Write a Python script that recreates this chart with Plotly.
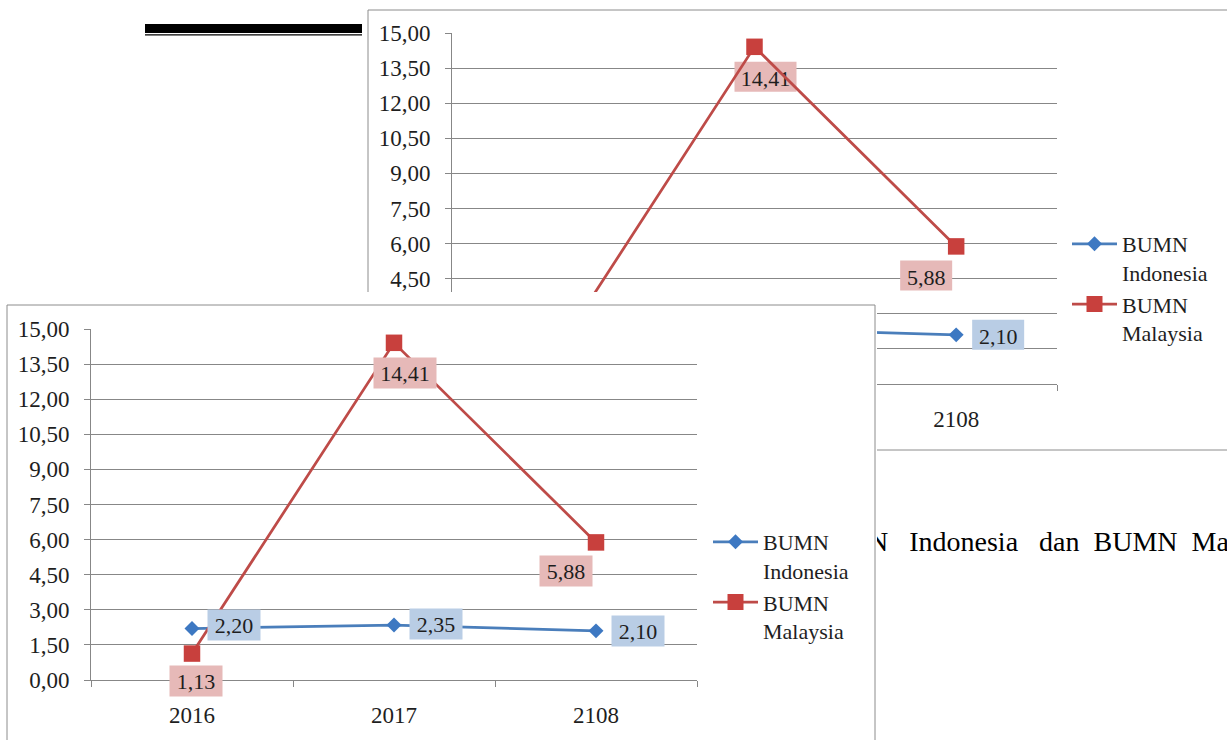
import plotly.graph_objects as go

# ---------------- data ----------------
years = ["2016", "2017", "2108"]
bumn_indonesia = [2.20, 2.35, 2.10]
bumn_malaysia = [1.13, 14.41, 5.88]
series_labels = ["BUMN<br>Indonesia", "BUMN<br>Malaysia"]
y_tickvals = [0.0, 1.5, 3.0, 4.5, 6.0, 7.5, 9.0, 10.5, 12.0, 13.5, 15.0]
caption = "N\u00a0\u00a0\u00a0Indonesia\u00a0\u00a0\u00a0dan\u00a0\u00a0BUMN\u00a0\u00a0Malaysia"

# ---------------- styling ----------------
W, H = 1227, 740
FONT = "Liberation Serif, Times New Roman, serif"
TXT = "#1e1e1e"
GRID = "#878787"
FRAME = "#8c8c8c"
BLUE_LINE, BLUE_MARK, BLUE_BOX = "#4a7ebb", "#3d78c2", "#b9cde5"
RED_LINE, RED_MARK, RED_BOX = "#be4b48", "#c8403d", "#e6b9b8"
TICK_SIZE = 23
LABEL_SIZE = 22

# data-label offsets from their point, in pixels (right, up)
indo_label_off = [(42, 4), (42, 1), (42, 0)]
malay_label_off = [(4, -27), (11, -30), (-30, -29)]
LABEL_H = 30

# panel geometry in pixels: (left, right, top, bottom)
back_plot = (452, 1057, 33, 384)
back_frame = (368, 1250, 10, 450)
front_plot = (91, 697, 329, 680)
front_sheet = (5, 877, 292, 740)     # white sheet of the front chart
front_frame = (7, 875, 305, 760)     # its border


def px_x(p):
    return p / W


def px_y(p):
    return 1 - p / H


def fmt(v):
    return f"{v:.2f}".replace(".", ",")


def label_width(text):
    return 10 * len(text) + 12


def value_axis(plot, anchor):
    l, r, t, b = plot
    return dict(
        domain=[px_y(b), px_y(t)], anchor=anchor, range=[0, 15],
        tickmode="array", tickvals=y_tickvals, tickformat=".2f",
        showgrid=True, gridcolor=GRID, gridwidth=1,
        showline=True, linecolor=GRID, linewidth=1,
        ticks="outside", ticklen=6, tickcolor=GRID, tickwidth=1,
        ticklabelstandoff=10, zeroline=False, automargin=False,
        tickfont=dict(family=FONT, size=TICK_SIZE, color=TXT), fixedrange=True,
    )


def category_axis(plot, anchor):
    l, r, t, b = plot
    return dict(
        domain=[px_x(l), px_x(r)], anchor=anchor, type="category",
        categoryorder="array", categoryarray=years, range=[-0.5, 2.5],
        tickson="boundaries", ticks="outside", ticklen=6, tickcolor=GRID,
        showgrid=False, showline=True, linecolor=GRID, linewidth=1,
        zeroline=False, ticklabelstandoff=14, automargin=False,
        tickfont=dict(family=FONT, size=TICK_SIZE, color=TXT), fixedrange=True,
    )


def series_traces(xa, ya, legend):
    return [
        go.Scatter(
            x=years, y=bumn_indonesia, name=series_labels[0], mode="lines+markers",
            line=dict(color=BLUE_LINE, width=2.75),
            marker=dict(symbol="diamond", size=11.5, color=BLUE_MARK),
            xaxis=xa, yaxis=ya, legend=legend, hoverinfo="skip",
        ),
        go.Scatter(
            x=years, y=bumn_malaysia, name=series_labels[1], mode="lines+markers",
            line=dict(color=RED_LINE, width=2.75),
            marker=dict(symbol="square", size=16.5, color=RED_MARK),
            xaxis=xa, yaxis=ya, legend=legend, hoverinfo="skip",
        ),
    ]


fig = go.Figure()

# base canvas (pixel coordinates) holding the running text of the page
fig.add_trace(go.Scatter(
    x=[868], y=[544], text=[caption], mode="text", textposition="middle right",
    textfont=dict(family=FONT, size=28, color="black"),
    xaxis="x", yaxis="y", showlegend=False, hoverinfo="skip", cliponaxis=False,
))

# chart drawn behind
for tr in series_traces("x2", "y2", "legend2"):
    fig.add_trace(tr)

# white sheet of the chart in front (its plot background hides what lies behind)
fig.add_trace(go.Scatter(x=[None], y=[None], xaxis="x3", yaxis="y3",
                         showlegend=False, hoverinfo="skip"))

# chart in front
for tr in series_traces("x4", "y4", "legend"):
    fig.add_trace(tr)

shapes = [
    # double rule at the top left of the page
    dict(type="rect", xref="paper", yref="paper", layer="below",
         x0=px_x(145), x1=px_x(362), y0=px_y(33), y1=px_y(24),
         fillcolor="black", line=dict(width=0)),
    dict(type="rect", xref="paper", yref="paper", layer="below",
         x0=px_x(145), x1=px_x(362), y0=px_y(35.5), y1=px_y(34.2),
         fillcolor="black", line=dict(width=0)),
    # border of the chart behind
    dict(type="rect", xref="paper", yref="paper", layer="below",
         x0=px_x(back_frame[0]), x1=px_x(back_frame[1]),
         y0=px_y(back_frame[3]), y1=px_y(back_frame[2]),
         fillcolor="rgba(0,0,0,0)", line=dict(color=FRAME, width=1)),
    # border of the chart in front, drawn on its sheet (sheet axes are in pixels)
    dict(type="rect", xref="x3", yref="y3", layer="between",
         x0=front_frame[0], x1=front_frame[1], y0=front_frame[2], y1=front_frame[3],
         fillcolor="rgba(0,0,0,0)", line=dict(color=FRAME, width=1)),
]

# data labels of the chart behind: boxes in axis units so they sit under the front sheet
cat_px = (back_plot[1] - back_plot[0]) / len(years)
unit_px = (back_plot[3] - back_plot[2]) / 15.0
for values, offs, box in ((bumn_indonesia, indo_label_off, BLUE_BOX),
                          (bumn_malaysia, malay_label_off, RED_BOX)):
    for i, v in enumerate(values):
        txt = fmt(v)
        dx, dy = offs[i]
        w = label_width(txt)
        shapes.append(dict(
            type="rect", xref="x2", yref="y2", layer="between",
            x0=i + (dx - w / 2) / cat_px, x1=i + (dx + w / 2) / cat_px,
            y0=v + (dy - LABEL_H / 2) / unit_px, y1=v + (dy + LABEL_H / 2) / unit_px,
            fillcolor=box, line=dict(width=0),
            label=dict(text=txt, font=dict(family=FONT, size=LABEL_SIZE, color=TXT),
                       textposition="middle center", padding=0),
        ))

# data labels of the chart in front (category axes take the category index)
annotations = []
for values, offs, box in ((bumn_indonesia, indo_label_off, BLUE_BOX),
                          (bumn_malaysia, malay_label_off, RED_BOX)):
    for i, v in enumerate(values):
        txt = fmt(v)
        dx, dy = offs[i]
        annotations.append(dict(
            x=i, y=v, xref="x4", yref="y4", text=txt, showarrow=False,
            xshift=dx, yshift=dy, bgcolor=box, width=label_width(txt),
            height=LABEL_H, borderpad=0,
            font=dict(family=FONT, size=LABEL_SIZE, color=TXT),
        ))

legend_style = dict(
    xanchor="left", yanchor="top", bgcolor="rgba(0,0,0,0)",
    font=dict(family=FONT, size=22, color=TXT), valign="top",
    tracegroupgap=0, itemwidth=45, itemclick=False, itemdoubleclick=False,
)

fig.update_layout(
    width=W, height=H, autosize=False,
    margin=dict(l=0, r=0, t=0, b=0, pad=0, autoexpand=False),
    paper_bgcolor="white", plot_bgcolor="white",
    separators=",.",
    showlegend=True,
    legend=dict(x=px_x(708), y=px_y(521), **legend_style),
    legend2=dict(x=px_x(1067), y=px_y(223), **legend_style),
    # canvas
    xaxis=dict(domain=[0, 1], range=[0, W], visible=False, fixedrange=True,
               anchor="y", automargin=False),
    yaxis=dict(domain=[0, 1], range=[H, 0], visible=False, fixedrange=True,
               anchor="x", automargin=False),
    # chart behind
    xaxis2=category_axis(back_plot, "y2"),
    yaxis2=value_axis(back_plot, "x2"),
    # front sheet, axes in pixel units
    xaxis3=dict(domain=[px_x(front_sheet[0]), px_x(front_sheet[1])], anchor="y3",
                range=[front_sheet[0], front_sheet[1]], visible=False,
                fixedrange=True, automargin=False),
    yaxis3=dict(domain=[px_y(front_sheet[3]), px_y(front_sheet[2])], anchor="x3",
                range=[front_sheet[3], front_sheet[2]], visible=False,
                fixedrange=True, automargin=False),
    # chart in front
    xaxis4=category_axis(front_plot, "y4"),
    yaxis4=value_axis(front_plot, "x4"),
    shapes=shapes,
    annotations=annotations,
    hovermode=False,
)

fig.write_html("out.html")
